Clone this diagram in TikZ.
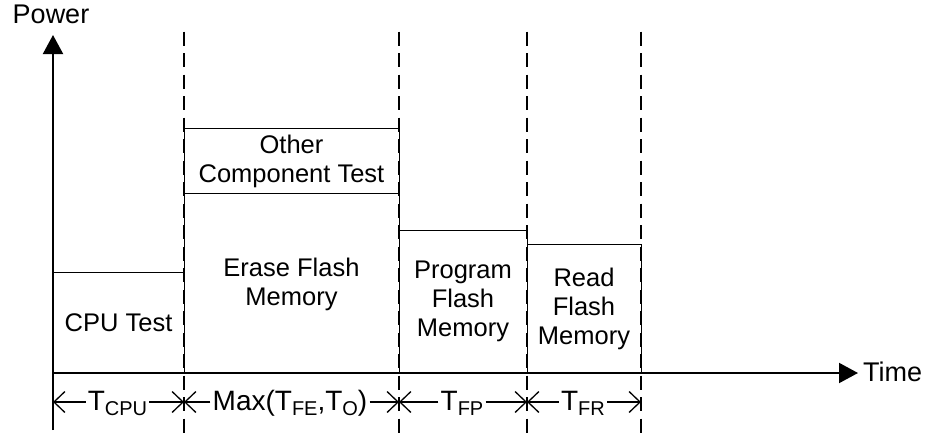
\documentclass[tikz,border=0pt]{standalone}
\usepackage{fontspec}
\setmainfont{Liberation Sans}
\usetikzlibrary{arrows.meta}
% lowered, smaller subscript text
\newcommand{\lowsub}[1]{\raisebox{-5pt}{\fontsize{20}{20}\selectfont #1}}

\begin{document}
\begin{tikzpicture}[x=1pt,y=-1pt,
  lbl/.style={font=\fontsize{25.5}{29}\selectfont, inner sep=0pt, align=center},
  axlbl/.style={font=\fontsize{27}{30}\selectfont, inner sep=0pt},
  dlbl/.style={font=\fontsize{28}{30}\selectfont, inner xsep=2pt, inner ysep=0pt, anchor=base},
  bar/.style={draw=black, line width=1pt},
  guide/.style={line width=2pt, dash pattern=on 14pt off 7.5pt},
  axis/.style={line width=2pt, -{Triangle[length=19pt,width=20pt]}},
  dim/.style={line width=1.3pt},
  tip/.style={-{Straight Barb[length=11pt,width=21pt,line width=1.3pt]}},
]
\useasboundingbox (0,0) rectangle (930,434);

% power bars of the test phases
\draw[bar] (53,272) rectangle (184,373);
\draw[bar] (184,193) rectangle (399,373);
\draw[bar] (184,128) rectangle (399,193);
\draw[bar] (399,230) rectangle (527,373);
\draw[bar] (527,244) rectangle (641,373);

\node[lbl] (cpu)   at (118.5,322.5) {CPU Test};
\node[lbl] (other) at (291.5,161)   {Other\\Component Test};
\node[lbl] (erase) at (291.5,284)   {Erase Flash\\Memory};
\node[lbl] (prog)  at (463,301.5)   {Program\\Flash\\Memory};
\node[lbl] (read)  at (584,308.5)   {Read\\Flash\\Memory};

% phase boundaries
\foreach \gx in {184,399,527,641}
  \draw[guide] (\gx,31.7) -- (\gx,434);

% axes
\coordinate (ybot) at (53,430);
\coordinate (ytop) at (53,35);
\coordinate (xorg) at (53,373);
\coordinate (xend) at (858,373);
\draw[axis] (ybot) -- (ytop);
\draw[axis] (xorg) -- (xend);
\node[axlbl, anchor=base] (power) at (51,23.3) {Power};
\node[axlbl, anchor=west] (time) at (863,372) {Time};

% phase durations
\coordinate (d0) at (53,402);
\coordinate (d1) at (184,402);
\coordinate (d2) at (399,402);
\coordinate (d3) at (527,402);
\coordinate (d4) at (641,402);
\node[dlbl] (tcpu) at (117.5,410) {T\lowsub{CPU}};
\node[dlbl] (tmax) at (290,410) {Max(T\lowsub{FE},T\lowsub{O})};
\node[dlbl] (tfp)  at (462,410) {T\lowsub{FP}};
\node[dlbl] (tfr)  at (583,410) {T\lowsub{FR}};

\draw[dim,tip] (tcpu.west |- d0) -- (d0);
\draw[dim,tip] (tcpu.east |- d0) -- (d1);
\draw[dim,tip] (tmax.west |- d0) -- (d1);
\draw[dim,tip] (tmax.east |- d0) -- (d2);
\draw[dim,tip] (tfp.west |- d0) -- (d2);
\draw[dim,tip] (tfp.east |- d0) -- (d3);
\draw[dim,tip] (tfr.west |- d0) -- (d3);
\draw[dim,tip] (tfr.east |- d0) -- (d4);
\end{tikzpicture}
\end{document}
